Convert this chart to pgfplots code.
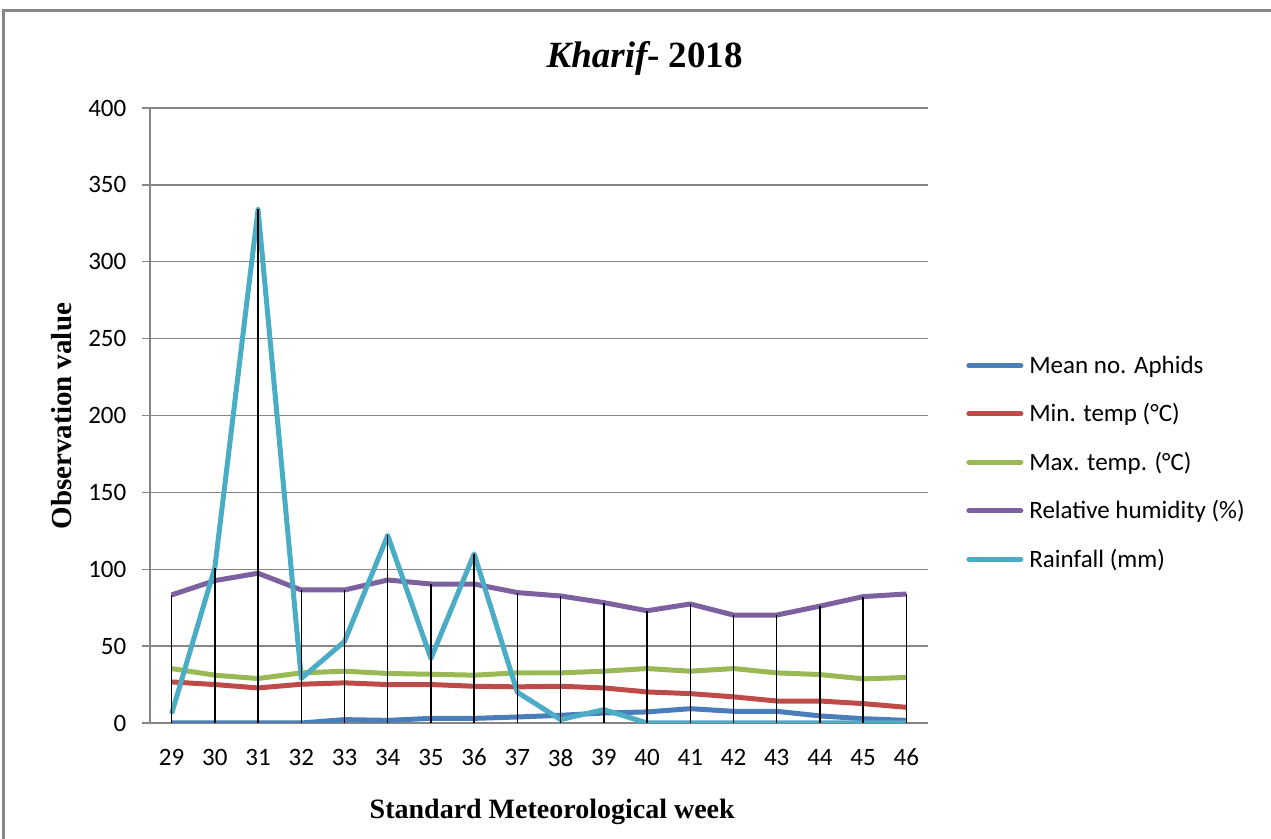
\documentclass[border=0pt]{standalone}
\usepackage{pgfplots}
\pgfplotsset{compat=1.18}
\usepackage{fontspec}
\setmainfont{Liberation Serif}
\newfontfamily\calfont{Carlito}
\definecolor{cBlue}{RGB}{74,126,187}
\definecolor{cRed}{RGB}{190,75,72}
\definecolor{cGreen}{RGB}{152,185,84}
\definecolor{cPurple}{RGB}{125,96,160}
\definecolor{cCyan}{RGB}{75,172,198}
\definecolor{cGrid}{RGB}{134,134,134}
\begin{document}
\begin{tikzpicture}
\path[use as bounding box] (-75pt,-58pt) rectangle (560.5pt,361.5pt);
\draw[cGrid, line width=1.5pt] (-73pt,-80pt) -- (-73pt,356pt) -- (600pt,356pt);
\begin{axis}[
  at={(0pt,0pt)}, anchor=south west,
  scale only axis, width=389pt, height=307.5pt,
  xmin=28.5, xmax=46.5, ymin=0, ymax=400,
  xtick={29,...,46}, ytick={0,50,...,400},
  axis lines*=left,
  axis line style={cGrid, line width=0.65pt},
  ymajorgrids, grid style={cGrid, line width=0.65pt},
  tick align=outside, major tick length=4pt,
  y tick style={cGrid, line width=0.65pt},
  x tick style={draw=none},
  ticklabel style={font=\calfont\fontsize{12.5}{15}\selectfont, text=black},
  /pgf/number format/assume math mode=true,
  yticklabel style={xshift=-4.3pt},
  xticklabel style={yshift=-5.5pt},
  title={\fontsize{18.5}{20}\selectfont\bfseries\itshape Kharif\upshape- 2018},
  title style={at={(axis description cs:0.636,1.086)}, anchor=center, yshift=-7.5pt},
  xlabel={\fontsize{14}{16}\selectfont\bfseries Standard Meteorological week},
  xlabel style={at={(axis description cs:0.517,-0.1447)}, anchor=center},
  ylabel={\fontsize{14.5}{16}\selectfont\bfseries Observation value},
  ylabel style={at={(axis description cs:-0.1131,0.499)}, anchor=center},
  legend style={draw=none, fill=none, at={(axis description cs:1.0488,0.424)}, anchor=west,
    inner sep=0pt, row sep=12.2pt, column sep=3pt,
    font=\calfont\fontsize{12.5}{15}\selectfont,
    nodes={inner sep=0pt, text height=10pt, text depth=2pt}},
  legend cell align=left,
  legend image code/.code={\draw[#1, line width=2.5pt, line cap=round] (0pt,0pt) -- (26pt,0pt);},
  every axis plot/.append style={line width=2.5pt, line join=round, mark=none},
]
\addplot[cBlue] coordinates {(29,0)(30,0)(31,0)(32,0)(33,2.2)(34,1.7)(35,3)(36,3)(37,3.9)(38,5)(39,6.5)(40,7.2)(41,9.3)(42,7.6)(43,7.6)(44,4.6)(45,2.8)(46,1.7)};
\addlegendentry{Mean no. Aphids}
\addplot[cRed] coordinates {(29,26.7)(30,25)(31,22.8)(32,25.2)(33,26.1)(34,25)(35,25)(36,23.9)(37,23.5)(38,23.9)(39,22.8)(40,20.2)(41,19.1)(42,17)(43,14.3)(44,14.3)(45,12.6)(46,10.2)};
\addlegendentry{Min. temp (°C)}
\addplot[cGreen] coordinates {(29,35.4)(30,31.1)(31,28.9)(32,32.6)(33,33.7)(34,32.2)(35,31.7)(36,31.1)(37,32.6)(38,32.6)(39,33.7)(40,35.4)(41,33.7)(42,35.4)(43,32.6)(44,31.5)(45,28.7)(46,29.6)};
\addlegendentry{Max. temp. (°C)}
\addplot[cPurple] coordinates {(29,83.3)(30,92.6)(31,97.4)(32,86.5)(33,86.5)(34,93)(35,90.4)(36,90.4)(37,84.8)(38,82.6)(39,78.3)(40,73)(41,77.4)(42,70.2)(43,70.2)(44,76)(45,82.2)(46,83.9)};
\addlegendentry{Relative humidity (\%)}
\addplot[cCyan] coordinates {(29,6)(30,101)(31,334)(32,29)(33,53)(34,122)(35,42)(36,110)(37,20)(38,2.2)(39,8.7)(40,0)(41,0)(42,0)(43,0)(44,0)(45,0)(46,0)};
\addlegendentry{Rainfall (mm)}
% drop lines: highest value of the five series at each week
\addplot[black, line width=0.7pt, ycomb, forget plot] coordinates {(29,83.3)(30,101)(31,334)(32,86.5)(33,86.5)(34,122)(35,90.4)(36,110)(37,84.8)(38,82.6)(39,78.3)(40,73)(41,77.4)(42,70.2)(43,70.2)(44,76)(45,82.2)(46,83.9)};
\end{axis}
\end{tikzpicture}
\end{document}
